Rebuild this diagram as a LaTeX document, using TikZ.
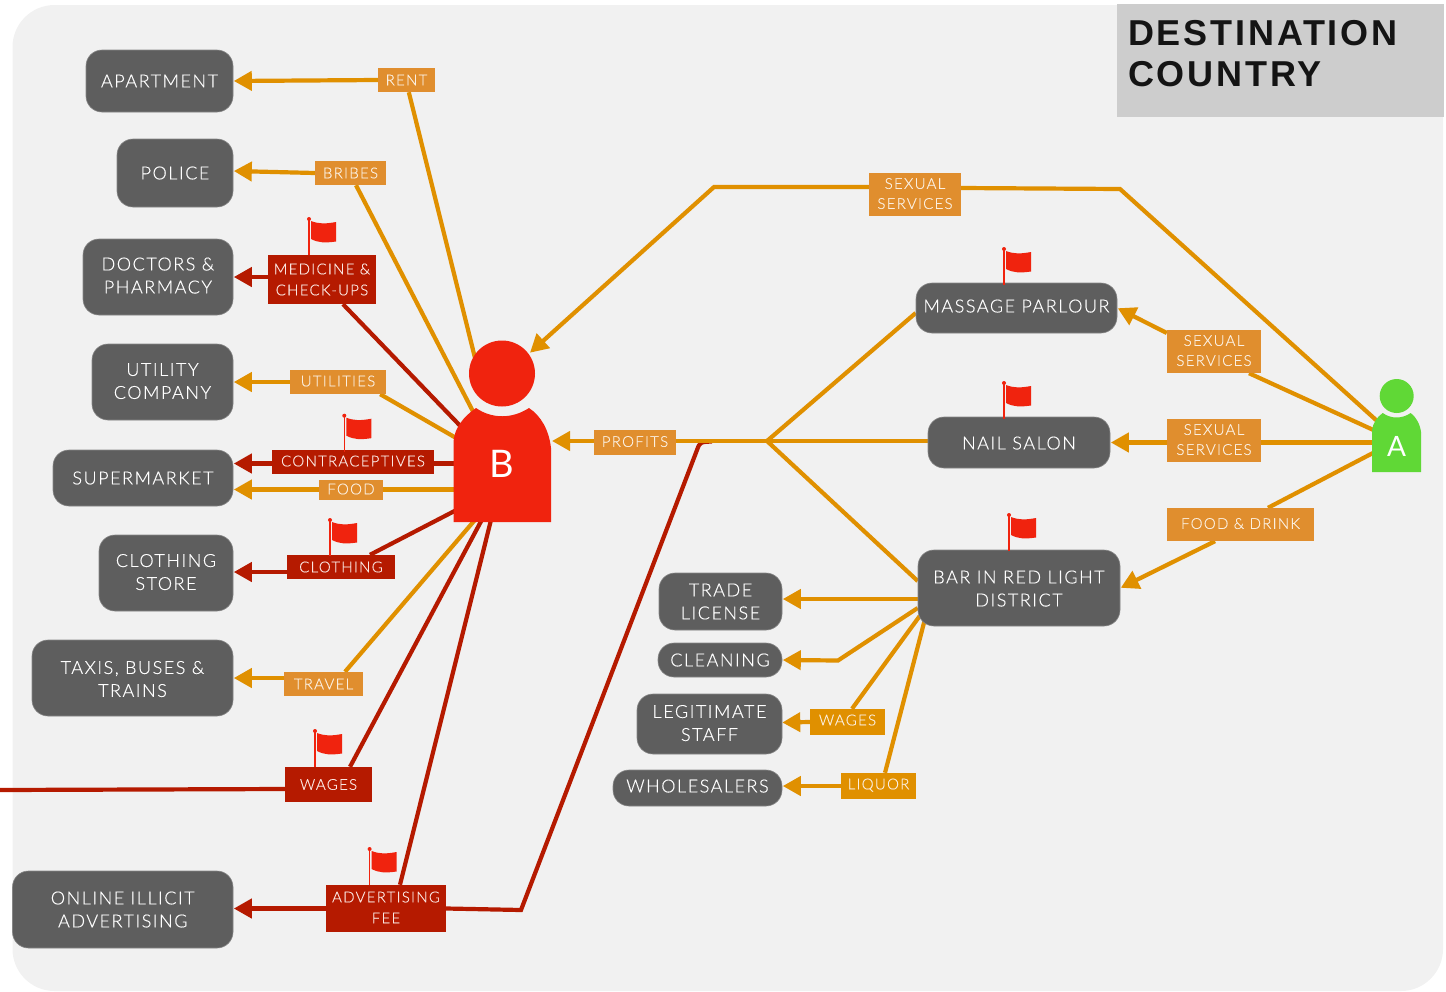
\documentclass[tikz,border=0pt]{standalone}
\usepackage{fontspec}
\setmainfont{Lato Light}[LetterSpace=8.5,FakeBold=0.4]
\newfontfamily\titlefont{Liberation Sans Bold}[LetterSpace=7.8]
\newfontfamily\bodyletter{Lato}
\usetikzlibrary{arrows.meta,calc}
\definecolor{panelc}{HTML}{F1F1F1}
\definecolor{titlec}{HTML}{CDCDCD}
\definecolor{grayc}{HTML}{5E5E5E}
\definecolor{ol}{HTML}{E09000}
\definecolor{ollab}{HTML}{E08E2E}
\definecolor{dr}{HTML}{B51A00}
\definecolor{br}{HTML}{F0230E}
\definecolor{gn}{HTML}{60D836}
\definecolor{oltext}{HTML}{FBEFE0}
\definecolor{drtext}{HTML}{FBE6E2}
\newcommand\txdown[1]{\rule{0pt}{\dimexpr13pt+#1pt+#1pt\relax}}
\newcommand\txnudge{\rule[-2pt]{0pt}{2pt}}
\pgfdeclarelayer{back}
\pgfdeclarelayer{lines}
\pgfsetlayers{back,lines,main}
\tikzset{
  grayb/.style={fill=grayc,draw=grayc!75!white,line width=0.6pt,rounded corners=16pt,inner sep=0pt,align=center,text=white,
    font=\fontsize{18}{23}\selectfont},
  ollabel/.style={fill=ollab,inner sep=0pt,align=center,text=oltext,font=\fontsize{15}{20}\selectfont},
  ol2label/.style={ollabel,fill=ol},
  drlabel/.style={fill=dr,inner sep=0pt,align=center,text=drtext,font=\fontsize{15}{21}\selectfont},
  oln/.style={draw=ol,line width=4.2pt},
  drn/.style={draw=dr,line width=4.2pt},
  tiparrow/.style={-{Triangle[length=18pt,width=19pt]},shorten >=0.5pt},
  pics/redflag/.style={code={
    \draw[br,line width=1.5pt] (0,0) -- (0,36);
    \fill[br] (0,0) circle (2);
    \fill[br] (2,2) .. controls (10,5) and (16,5) .. (27,3) -- (27,22.5) .. controls (16,24) and (10,24) .. (2,20) -- cycle;
  }},
}
\begin{document}
\begin{tikzpicture}[x=1pt,y=-1pt]
\useasboundingbox (0,0) rectangle (1446,991);
\begin{pgfonlayer}{back}
  \fill[panelc,rounded corners=42pt] (12.5,5) rectangle (1443,991);
\end{pgfonlayer}
\fill[titlec] (1117,4) rectangle (1444,117);
\node[anchor=west,inner sep=0pt,align=left,font=\titlefont\fontsize{36}{41.5}\selectfont,text=black!92] (title) at (1128,53.75) {DESTINATION\\COUNTRY};

% left boxes
\node[grayb,minimum width=147pt,minimum height=62pt] (apartment) at (159.5,81) {APARTMENT};
\node[grayb,minimum width=116pt,minimum height=68pt] (police) at (175,173) {POLICE};
\node[grayb,minimum width=150pt,minimum height=76pt] (doctors) at (158,277) {DOCTORS \&\\PHARMACY\rule[-3pt]{0pt}{3pt}};
\node[grayb,minimum width=141pt,minimum height=76pt] (utility) at (162.5,382) {UTILITY\\COMPANY\txnudge};
\node[grayb,minimum width=180pt,minimum height=56pt] (supermarket) at (143,478) {SUPERMARKET};
\node[grayb,minimum width=134pt,minimum height=76pt] (clothing) at (166,573) {CLOTHING\\STORE\txnudge};
\node[grayb,minimum width=201pt,minimum height=76pt] (taxis) at (132.5,678) {\txdown{1}TAXIS, BUSES \&\\TRAINS};
\node[grayb,minimum width=220.5pt,minimum height=77pt] (online) at (122.75,909.5) {ONLINE ILLICIT\\ADVERTISING};
% right boxes
\node[grayb,minimum width=201pt,minimum height=50pt] (massage) at (1016.5,308) {MASSAGE PARLOUR\rule[-4pt]{0pt}{4pt}};
\node[grayb,minimum width=182pt,minimum height=51pt] (nail) at (1019,442.5) {\txdown{0.5}NAIL SALON};
\node[grayb,minimum width=202pt,minimum height=76pt] (bar) at (1019,588) {\txdown{0.5}BAR IN RED LIGHT\\DISTRICT};
\node[grayb,minimum width=123pt,minimum height=57pt] (trade) at (720.5,601.5) {TRADE\\LICENSE};
\node[grayb,minimum width=124pt,minimum height=34pt] (cleaning) at (720,660) {CLEANING};
\node[grayb,minimum width=145pt,minimum height=60pt] (legit) at (709.5,724) {LEGITIMATE\\STAFF\txnudge};
\node[grayb,minimum width=169pt,minimum height=36pt] (whole) at (697.5,788) {WHOLESALERS\rule[-4pt]{0pt}{4pt}};
% labels
\node[ollabel,minimum width=57pt,minimum height=24pt] (rent) at (406.5,80) {RENT};
\node[ollabel,minimum width=71pt,minimum height=24pt] (bribes) at (350.5,173) {BRIBES};
\node[drlabel,minimum width=108pt,minimum height=49pt] (medicine) at (322,279.5) {MEDICINE \&\\CHECK-UPS};
\node[ollabel,minimum width=96pt,minimum height=24pt] (utilities) at (338,382) {UTILITIES\rule[-2pt]{0pt}{2pt}};
\node[drlabel,minimum width=162pt,minimum height=24pt] (contra) at (353,462) {CONTRACEPTIVES\rule[-2pt]{0pt}{2pt}};
\node[ollabel,minimum width=64pt,minimum height=20pt] (food) at (351,490) {FOOD\rule[-2pt]{0pt}{2pt}};
\node[drlabel,minimum width=108pt,minimum height=24pt] (clothinglab) at (341,567) {CLOTHING};
\node[ollabel,minimum width=79pt,minimum height=24pt] (travel) at (323.5,684) {TRAVEL};
\node[drlabel,minimum width=87pt,minimum height=35pt] (wagesred) at (328.5,784.5) {WAGES};
\node[drlabel,minimum width=120pt,minimum height=47pt] (adv) at (386,908.5) {ADVERTISING\\FEE\rule[-2pt]{0pt}{2pt}};
\node[ollabel,minimum width=82pt,minimum height=25pt] (profits) at (635,442.5) {PROFITS\rule[-2pt]{0pt}{2pt}};
\node[ollabel,minimum width=92pt,minimum height=43pt] (sextop) at (915,194.5) {SEXUAL\\SERVICES\txnudge};
\node[ollabel,minimum width=94pt,minimum height=43pt] (sexmid) at (1214,351.5) {SEXUAL\\SERVICES\txnudge};
\node[ollabel,minimum width=94pt,minimum height=43pt] (sexlow) at (1214,440.5) {SEXUAL\\SERVICES\txnudge};
\node[ollabel,minimum width=147pt,minimum height=33pt] (fooddrink) at (1240.5,524.5) {FOOD \& DRINK\txnudge};
\node[ol2label,minimum width=75pt,minimum height=26pt] (wagesor) at (847.5,722) {WAGES\rule[-4pt]{0pt}{4pt}};
\node[ol2label,minimum width=75pt,minimum height=26pt] (liquor) at (878.5,786) {LIQUOR\rule[-4pt]{0pt}{4pt}};

% persons
\fill[br] (502,373.5) circle (33);
\fill[br] (453.7,522) -- (453.7,440) .. controls (455,428) and (463,417) .. (476,408)
  .. controls (492,419) and (512,419) .. (529,408)
  .. controls (541,416) and (549,430) .. (551,448) -- (551,522) -- cycle;
\node[inner sep=0pt,minimum width=97pt,minimum height=58pt,text=white,font=\bodyletter\fontsize{38}{38}\selectfont] (personb) at (502,464) {B};
\fill[gn] (1396.7,396) circle (17);
\fill[gn] (1372,472) -- (1372,430) .. controls (1373,423) and (1377,417) .. (1382.7,413)
  .. controls (1391,419) and (1402,419) .. (1410.7,413)
  .. controls (1416,417) and (1420,424) .. (1421,432) -- (1421,472) -- cycle;
\node[inner sep=0pt,minimum width=49pt,minimum height=40pt,text=white,font=\bodyletter\fontsize{28}{28}\selectfont] (persona) at (1396.7,446) {A};

% ports and bends
\coordinate (bRent) at (478,370);
\coordinate (bBribes) at (480,425);
\coordinate (bMed) at (470,436);
\coordinate (bUtil) at (470,446);
\coordinate (bContra) at (470,463.5);
\coordinate (bFood) at (470,489.5);
\coordinate (bCloth) at (470,503);
\coordinate (bTravel) at (480,514);
\coordinate (bWages) at (486,512);
\coordinate (bAdv) at (493,512);
\coordinate (bProfit) at (552,441);
\coordinate (bHead) at (530,352.7);
\coordinate (aTop) at (1382,425.4);
\coordinate (aMid) at (1380,433);
\coordinate (aLow) at (1380,442.5);
\coordinate (aFood) at (1380,449.3);
\coordinate (bendR) at (1120,189);
\coordinate (bendL) at (714,187);
\coordinate (hub) at (767,441);
\coordinate (elbow) at (838,660.5);
\coordinate (freeW) at (0,790);
\coordinate (advA) at (521,910);
\coordinate (advB) at (697,450);
\coordinate (advC) at (712,441.5);

\begin{pgfonlayer}{lines}
  % red connectors
  \draw[drn] (adv.east) -- (advA) -- (advB) .. controls (700,442) .. (advC);
  \draw[drn,tiparrow] ([yshift=2.5pt]medicine.west) -- (doctors.east);
  \draw[drn] ([xshift=21pt]medicine.south) -- (bMed);
  \draw[drn,tiparrow] ([yshift=-1.5pt]contra.west) -- ([yshift=14.5pt]supermarket.east);
  \draw[drn] ([yshift=-1.5pt]contra.east) -- (bContra);
  \draw[drn,tiparrow] ([yshift=-5pt]clothinglab.west) -- ([yshift=1pt]clothing.east);
  \draw[drn] ([xshift=29pt]clothinglab.north) -- (bCloth);
  \draw[drn] ([xshift=21.5pt]wagesred.north) -- (bWages);
  \draw[drn] ([yshift=-4.5pt]wagesred.west) -- (freeW);
  \draw[drn] ([xshift=14pt]adv.north) -- (bAdv);
  \draw[drn,tiparrow] (adv.west) -- ([yshift=1pt]online.east);
  % orange connectors, left
  \draw[oln,tiparrow] (rent.west) -- (apartment.east);
  \draw[oln] ([xshift=2.3pt]rent.south) -- (bRent);
  \draw[oln,tiparrow] (bribes.west) -- ([yshift=2pt]police.east);
  \draw[oln] ([xshift=5.5pt]bribes.south) -- (bBribes);
  \draw[oln,tiparrow] (utilities.west) -- (utility.east);
  \draw[oln] ([xshift=-6pt]utilities.south east) -- (bUtil);
  \draw[oln] (bFood) -- ([yshift=0.5pt]food.east);
  \draw[oln,tiparrow] ([yshift=0.5pt]food.west) -- ([yshift=-11.5pt]supermarket.east);
  \draw[oln,tiparrow] ([yshift=6pt]travel.west) -- (taxis.east);
  \draw[oln] ([xshift=21.5pt]travel.north) -- (bTravel);
  % top sexual services
  \draw[oln] (aTop) -- (bendR) -- ([yshift=6.5pt]sextop.east);
  \draw[oln,-{Triangle[length=18pt,width=19pt]}] ([yshift=7.5pt]sextop.west) -- (bendL) -- (bHead);
  % profits
  \draw[oln,tiparrow,shorten >=0pt] ([yshift=1.5pt]profits.west) -- (bProfit);
  \draw[oln] ([yshift=1.5pt]profits.east) -- (hub);
  \draw[oln] (hub) -- ([yshift=1.5pt]nail.west);
  \draw[oln] (hub) -- ([yshift=-5pt]massage.west);
  \draw[oln] (hub) -- ([yshift=7pt]bar.west);
  % person A
  \draw[oln] (aMid) -- ([xshift=35pt]sexmid.south);
  \draw[oln,tiparrow] ([yshift=18.5pt]sexmid.west) -- (massage.east);
  \draw[oln] (aLow) -- ([yshift=-2pt]sexlow.east);
  \draw[oln,tiparrow] ([yshift=-2pt]sexlow.west) -- (nail.east);
  \draw[oln] (aFood) -- ([xshift=27.5pt]fooddrink.north);
  \draw[oln,tiparrow] ([xshift=-25.5pt]fooddrink.south) -- (bar.east);
  % bar
  \draw[oln,tiparrow] ([yshift=-11pt]bar.west) -- ([yshift=2.5pt]trade.east);
  \draw[oln,tiparrow] ([yshift=-20pt]bar.west) -- (elbow) -- (cleaning.east);
  \draw[oln] ([shift={(2pt,-28pt)}]bar.west) -- ([xshift=4.5pt]wagesor.north);
  \draw[oln,tiparrow,shorten >=0pt] (wagesor.west) -- ([yshift=1.5pt]legit.east);
  \draw[oln] ([shift={(7pt,-32pt)}]bar.west) -- ([xshift=6.5pt]liquor.north);
  \draw[oln,tiparrow] (liquor.west) -- ([yshift=2pt]whole.east);
\end{pgfonlayer}

% flags
\pic at (309,219) {redflag};
\pic at (344.3,415.7) {redflag};
\pic at (330,520) {redflag};
\pic at (315,731) {redflag};
\pic at (369.6,849) {redflag};
\pic at (1004,249) {redflag};
\pic at (1004,383) {redflag};
\pic at (1009,515) {redflag};
\end{tikzpicture}
\end{document}
